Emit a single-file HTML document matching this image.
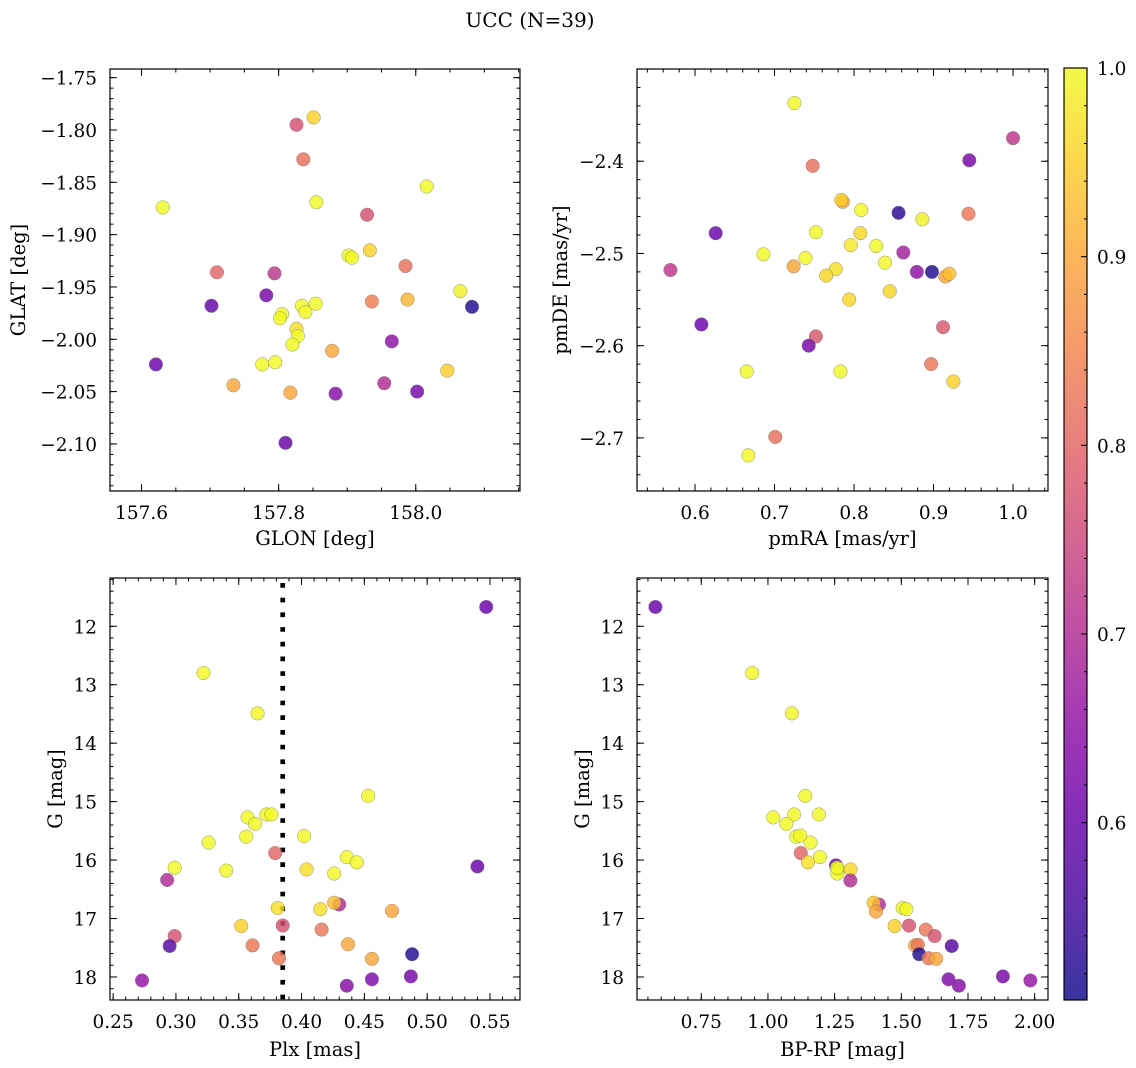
<!DOCTYPE html>
<html><head><meta charset="utf-8">
<style>
html,body{margin:0;padding:0;background:#fff;}
svg{display:block;font-family:"DejaVu Serif","Liberation Serif",serif;}
</style></head>
<body>
<svg id="fig" width="1136" height="1068" viewBox="0 0 1136 1068" xmlns="http://www.w3.org/2000/svg">
<text x="530" y="27" text-anchor="middle" font-size="20">UCC (N=39)</text>
</svg>
<script>
// Panel 1: GLON vs GLAT
const p1x=[157.851,157.826,157.836,158.016,157.631,157.855,157.929,157.933,157.902,157.907,157.985,157.710,157.794,158.065,157.782,157.702,158.082,157.936,157.988,157.834,157.854,157.839,157.805,157.802,157.826,157.828,157.820,157.965,157.878,157.621,157.776,157.795,158.046,157.734,157.817,157.883,157.954,158.002,157.810];
const p1y=[-1.788,-1.795,-1.828,-1.854,-1.874,-1.869,-1.881,-1.915,-1.920,-1.922,-1.930,-1.936,-1.937,-1.954,-1.958,-1.968,-1.969,-1.964,-1.962,-1.968,-1.966,-1.974,-1.976,-1.980,-1.990,-1.997,-2.005,-2.002,-2.011,-2.024,-2.024,-2.022,-2.030,-2.044,-2.051,-2.052,-2.042,-2.050,-2.099];
const p1c=[0.95,0.77,0.82,1.0,1.0,1.0,0.77,0.95,1.0,1.0,0.82,0.80,0.72,0.99,0.62,0.60,0.52,0.84,0.92,1.0,1.0,1.0,1.0,1.0,0.97,1.0,1.0,0.65,0.90,0.60,1.0,1.0,0.95,0.90,0.90,0.64,0.70,0.62,0.60];
// Panel 2: pmRA vs pmDE
const p2x=[0.725,1.000,0.945,0.748,0.786,0.784,0.809,0.856,0.944,0.886,0.626,0.752,0.808,0.796,0.828,0.686,0.862,0.739,0.839,0.724,0.777,0.765,0.879,0.898,0.915,0.920,0.569,0.845,0.794,0.608,0.912,0.752,0.743,0.897,0.665,0.783,0.925,0.701,0.667];
const p2y=[-2.337,-2.375,-2.399,-2.405,-2.444,-2.442,-2.453,-2.456,-2.457,-2.463,-2.478,-2.477,-2.478,-2.491,-2.492,-2.501,-2.499,-2.505,-2.510,-2.514,-2.517,-2.524,-2.520,-2.520,-2.525,-2.522,-2.518,-2.541,-2.550,-2.577,-2.580,-2.590,-2.600,-2.620,-2.628,-2.628,-2.639,-2.699,-2.719];
const p2c=[1.0,0.72,0.62,0.82,0.90,0.95,1.0,0.53,0.83,0.99,0.60,1.0,0.96,0.98,1.0,1.0,0.68,1.0,1.0,0.90,0.97,0.96,0.65,0.52,0.90,0.93,0.72,0.96,0.96,0.60,0.78,0.78,0.62,0.83,1.0,1.0,0.95,0.82,1.0];
// Panel 3: Plx vs G
const p3x=[0.547,0.322,0.365,0.453,0.357,0.372,0.376,0.363,0.402,0.356,0.326,0.379,0.436,0.444,0.540,0.299,0.340,0.404,0.426,0.293,0.430,0.426,0.381,0.415,0.472,0.352,0.385,0.416,0.299,0.361,0.437,0.295,0.488,0.382,0.456,0.273,0.456,0.487,0.436];
const p3y=[11.67,12.80,13.49,14.90,15.27,15.22,15.22,15.38,15.59,15.60,15.70,15.88,15.95,16.04,16.11,16.13,16.18,16.16,16.23,16.34,16.76,16.73,16.82,16.84,16.87,17.13,17.12,17.19,17.30,17.46,17.44,17.47,17.61,17.68,17.69,18.06,18.04,17.99,18.15];
const p3c=[0.60,1.0,1.0,1.0,1.0,1.0,1.0,1.0,1.0,1.0,1.0,0.80,1.0,1.0,0.60,1.0,1.0,0.97,1.0,0.70,0.70,0.93,0.97,0.97,0.90,0.95,0.77,0.83,0.77,0.83,0.90,0.58,0.52,0.83,0.90,0.66,0.63,0.62,0.64];
const plxLine=[0.385];
// Panel 4: BP-RP vs G
const p4x=[0.578,0.941,1.090,1.140,1.020,1.098,1.191,1.069,1.160,1.106,1.121,1.123,1.195,1.150,1.255,1.264,1.310,1.260,1.309,1.416,1.396,1.405,1.505,1.519,1.475,1.529,1.592,1.625,1.689,1.552,1.562,1.567,1.602,1.631,1.677,1.716,1.881,1.984,1.259];
const p4y=[11.67,12.80,13.49,14.90,15.27,15.22,15.22,15.38,15.70,15.60,15.58,15.88,15.95,16.04,16.09,16.16,16.16,16.23,16.35,16.76,16.73,16.88,16.82,16.84,17.13,17.12,17.19,17.30,17.47,17.46,17.45,17.61,17.68,17.69,18.04,18.15,17.99,18.06,16.13];
const p4c=[0.60,1.0,1.0,1.0,1.0,1.0,1.0,1.0,1.0,1.0,1.0,0.80,1.0,0.97,0.60,1.0,0.96,1.0,0.70,0.70,0.94,0.90,1.0,1.0,0.95,0.77,0.83,0.77,0.58,0.90,0.83,0.52,0.83,0.90,0.63,0.64,0.62,0.66,1.0];
const cbTicks=[0.6,0.7,0.8,0.9,1.0];

const NS="http://www.w3.org/2000/svg";
const svg=document.getElementById('fig');
const VMIN=0.506,VMAX=1.0;
const TICKFS=18.5, LABFS=19.5;
const plasma=["#0d0887","#41049d","#6a00a8","#8f0da4","#b12a90","#cc4778","#e16462","#f2844b","#fca636","#fcce25","#f0f921"];
function hex(h){return [parseInt(h.slice(1,3),16),parseInt(h.slice(3,5),16),parseInt(h.slice(5,7),16)];}
function cmap(v){let t=(v-VMIN)/(VMAX-VMIN);t=Math.max(0,Math.min(1,t));const f=t*10,i=Math.min(9,Math.floor(f)),r=f-i;const a=hex(plasma[i]),b=hex(plasma[i+1]);return 'rgb('+a.map((c,k)=>Math.round(c+(b[k]-c)*r)).join(',')+')';}
function el(tag,attrs,parent){const e=document.createElementNS(NS,tag);for(const k in attrs)e.setAttribute(k,attrs[k]);(parent||svg).appendChild(e);return e;}
function fmt(v,d){const s=Math.abs(v).toFixed(d);return (v<-1e-9?'\u2212':'')+s;}

function panel(o){
  const g=el('g',{});
  
  
  const [L,T,R,B]=o.box;
  const sx=v=>L+(v-o.xlim[0])/(o.xlim[1]-o.xlim[0])*(R-L);
  const sy=o.invert? (v=>T+(v-o.ylim[0])/(o.ylim[1]-o.ylim[0])*(B-T)) : (v=>B-(v-o.ylim[0])/(o.ylim[1]-o.ylim[0])*(B-T));
  const tg=el('g',{stroke:'#000','stroke-width':1},g);
  
  
  const lo=(a,b)=>Math.min(a,b),hi=(a,b)=>Math.max(a,b);
  function xt(step,len){const a=lo(...o.xlim),b=hi(...o.xlim);for(let k=Math.ceil(a/step-1e-6);k*step<=b+1e-9;k++){const x=sx(k*step);el('line',{x1:x,x2:x,y1:B,y2:B-len},tg);el('line',{x1:x,x2:x,y1:T,y2:T+len},tg);}}
  function yt(step,len){const a=lo(...o.ylim),b=hi(...o.ylim);for(let k=Math.ceil(a/step-1e-6);k*step<=b+1e-9;k++){const y=sy(k*step);el('line',{x1:L,x2:L+len,y1:y,y2:y},tg);el('line',{x1:R,x2:R-len,y1:y,y2:y},tg);}}
  xt(o.xminor,3.5);yt(o.yminor,3.5);
  o.xmajor.forEach(v=>{const x=sx(v);el('line',{x1:x,x2:x,y1:B,y2:B-7},tg);el('line',{x1:x,x2:x,y1:T,y2:T+7},tg);
    const t=el('text',{x:x,y:B+28,'text-anchor':'middle','font-size':TICKFS},g);t.textContent=fmt(v,o.xd);
    });
  o.ymajor.forEach(v=>{const y=sy(v);el('line',{x1:L,x2:L+7,y1:y,y2:y},tg);el('line',{x1:R,x2:R-7,y1:y,y2:y},tg);
    const t=el('text',{x:L-13,y:y+7,'text-anchor':'end','font-size':TICKFS},g);t.textContent=fmt(v,o.yd);
    });
  if(o.vline){o.vline.forEach(v=>{const ln=el('line',{x1:sx(v),x2:sx(v),y1:T+5,y2:B,stroke:'#000','stroke-width':4.7,'stroke-dasharray':'4.7 10'},g);
    });}
  const pg=el('g',{},g);
  
  
  o.xs.forEach((v,i)=>{const c=el('circle',{cx:sx(v),cy:sy(o.ys[i]),r:6.8,fill:cmap(o.cs[i]),'fill-opacity':0.82,stroke:'#777','stroke-width':0.5,'stroke-opacity':0.8},pg);
    });
  const f=el('rect',{x:L,y:T,width:R-L,height:B-T,fill:'none',stroke:'#000','stroke-width':1.2},g);
  
  const xl=el('text',{x:(L+R)/2,y:B+o.xlo,'text-anchor':'middle','font-size':LABFS},g);xl.textContent=o.xlabel;
  
  const yx=L-o.ylo,yy=(T+B)/2;
  const yl=el('text',{x:yx,y:yy,'text-anchor':'middle','font-size':LABFS,transform:'rotate(-90 '+yx+' '+yy+')'},g);yl.textContent=o.ylabel;
  
}
panel({name:'glon-glat-panel',box:[110,69,520,491],xlim:[157.554,158.152],ylim:[-2.145,-1.7417],xmajor:[157.6,157.8,158.0],xd:1,xminor:0.05,ymajor:[-2.10,-2.05,-2.00,-1.95,-1.90,-1.85,-1.80,-1.75],yd:2,yminor:0.01,xs:p1x,ys:p1y,cs:p1c,xlabel:'GLON [deg]',ylabel:'GLAT [deg]',xlo:54,ylo:85});
panel({name:'pm-panel',box:[637,69,1048,491],xlim:[0.527,1.044],ylim:[-2.7576,-2.300],xmajor:[0.6,0.7,0.8,0.9,1.0],xd:1,xminor:0.02,ymajor:[-2.7,-2.6,-2.5,-2.4],yd:1,yminor:0.02,xs:p2x,ys:p2y,cs:p2c,xlabel:'pmRA [mas/yr]',ylabel:'pmDE [mas/yr]',xlo:54,ylo:70});
panel({name:'plx-g-panel',box:[110,578,520,1000],xlim:[0.2475,0.5739],ylim:[11.174,18.394],invert:true,xmajor:[0.25,0.30,0.35,0.40,0.45,0.50,0.55],xd:2,xminor:0.01,ymajor:[12,13,14,15,16,17,18],yd:0,yminor:0.2,xs:p3x,ys:p3y,cs:p3c,vline:plxLine,xlabel:'Plx [mas]',ylabel:'G [mag]',xlo:56,ylo:48});
panel({name:'cmd-panel',box:[637,578,1048,1000],xlim:[0.509,2.05],ylim:[11.174,18.394],invert:true,xmajor:[0.75,1.00,1.25,1.50,1.75,2.00],xd:2,xminor:0.05,ymajor:[12,13,14,15,16,17,18],yd:0,yminor:0.2,xs:p4x,ys:p4y,cs:p4c,xlabel:'BP-RP [mag]',ylabel:'G [mag]',xlo:56,ylo:48});

(function(){
  const L=1064,R=1087,T=68,B=1000;
  const cg=el('g',{});
  
  
  const defs=el('defs',{},cg);
  const lg=el('linearGradient',{id:'cbg',x1:0,y1:1,x2:0,y2:0},defs);
  for(let i=0;i<=20;i++){const v=VMIN+(VMAX-VMIN)*i/20;el('stop',{offset:(i/20),'stop-color':cmap(v),'stop-opacity':0.82},lg);}
  el('rect',{x:L,y:T,width:R-L,height:B-T,fill:'url(#cbg)'},cg);
  const sy=v=>B-(v-VMIN)/(VMAX-VMIN)*(B-T);
  for(let v=0.52;v<=VMAX+1e-9;v+=0.02){const y=sy(v);el('line',{x1:R,x2:R-3,y1:y,y2:y,stroke:'#000','stroke-width':1},cg);}
  cbTicks.forEach(v=>{const y=sy(v);el('line',{x1:R,x2:R-6,y1:y,y2:y,stroke:'#000','stroke-width':1},cg);
    const t=el('text',{x:R+10,y:y+7,'font-size':TICKFS},cg);t.textContent=v.toFixed(1);
    });
  el('rect',{x:L,y:T,width:R-L,height:B-T,fill:'none',stroke:'#000','stroke-width':1.2},cg);
})();
</script>
</body></html>
